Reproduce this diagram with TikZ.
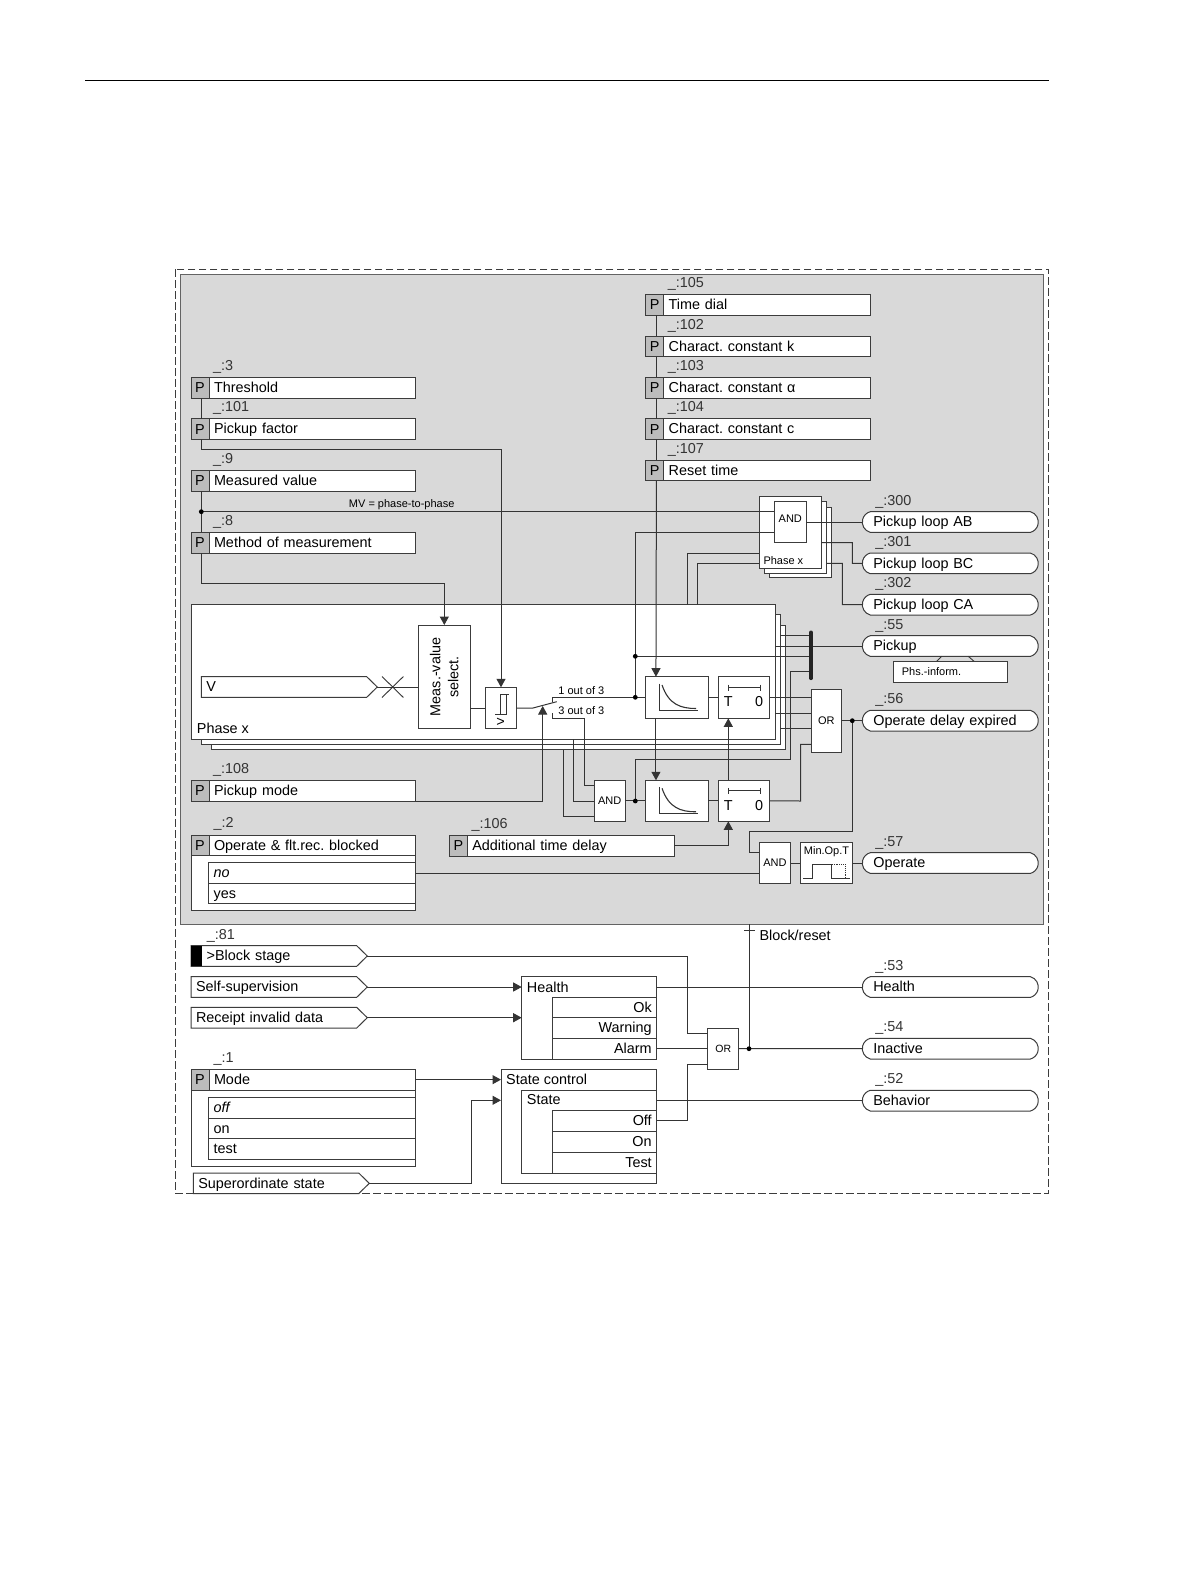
\documentclass[tikz,border=0pt]{standalone}
\usepackage{fontspec}
\setmainfont{Liberation Sans}
\usetikzlibrary{arrows.meta,calc,shapes.misc}
\definecolor{rlgrey}{RGB}{217,217,217}
\definecolor{rlpcell}{RGB}{188,188,188}
\definecolor{rlline}{RGB}{52,52,52}
\definecolor{rlbox}{RGB}{60,60,60}
\tikzset{
  textbig/.style={font=\fontsize{14.4}{17}\selectfont},
  textsmall/.style={font=\fontsize{11}{13}\selectfont},
  basebox/.style={draw=rlbox,line width=1pt,fill=white,anchor=north west,inner sep=0pt,outer sep=0pt,text=black},
  cellleft/.style={basebox,textbig,align=left,inner xsep=5pt,text height=11.5pt,text depth=2pt},
  cellright/.style={basebox,textbig,align=right,inner xsep=5pt,text height=11.5pt,text depth=2pt},
  cellmid/.style={basebox,align=center},
  pcell/.style={basebox,fill=rlpcell,textbig,minimum width=18pt,minimum height=20.7pt},
  idlabel/.style={textbig,anchor=west,inner sep=0pt,text=rlline},
  pill/.style={rounded rectangle,rounded rectangle arc length=150,draw=rlbox,line width=1pt,fill=white,textbig,align=left,
    text width=154pt,inner xsep=0pt,inner ysep=0pt,outer sep=0pt,minimum width=176pt,minimum height=20.7pt,text height=11.5pt,text depth=2pt},
  sigtext/.style={textbig,anchor=west,align=left,inner xsep=5pt,inner ysep=0pt,outer sep=0pt,minimum height=20.7pt,text height=11.5pt,text depth=2pt},
  wire/.style={draw=rlline,line width=1pt},
  wirein/.style={wire,-{Triangle[length=8.5pt,width=9pt]}},
  glyph/.style={draw=rlline,line width=.9pt},
  jdot/.style={fill=black},
}
\newcommand{\cellat}[7][cellleft]{\node[#1,minimum width={(#5-(#3))*1pt},minimum height={(#6-(#4))*1pt},text width={(#5-(#3)-10)*1pt}] (#2) at (#3,#4) {#7};}
\newcommand{\gateat}[7][textsmall]{\node[cellmid,#1,minimum width={(#5-(#3))*1pt},minimum height={(#6-(#4))*1pt}] (#2) at (#3,#4) {#7};}
\newcommand{\paramblock}[6]{\node[pcell] (#1P) at (#2,#3) {P};
  \cellat{#1}{#2+18}{#3}{#4}{#3+20.7}{#6}
  \node[idlabel] (#1id) at (#2+22,#3-10.6) {\_:#5};}
\newcommand{\pillat}[4]{\node[pill] (#1) at (950.3,#2+10.35) {#4};
  \node[idlabel] (#1id) at (875.2,#2-10) {\_:#3};}
\newcommand{\sigin}[5]{\draw[draw=rlbox,line width=1pt,fill=white] (#2,#3-10.3) -- (#2+#4-10.6,#3-10.3) -- (#2+#4,#3) -- (#2+#4-10.6,#3+10.3) -- (#2,#3+10.3) -- cycle;
  \node[sigtext,minimum width=#4pt,text width={#4pt-10pt}] (#1) at (#2,#3) {#5};}
\newcommand{\curvemark}[1]{\draw[glyph] ($(#1.center)+(-17.4,-14)$) -- ($(#1.center)+(-17.4,12.5)$) -- ($(#1.center)+(21.6,12.5)$);
  \draw[glyph,line width=1.1pt] ($(#1.center)+(-14.6,-12.5)$) .. controls ($(#1.center)+(-8,7)$) and ($(#1.center)+(4,11)$) .. ($(#1.center)+(19.4,11)$);}
\newcommand{\timermark}[1]{\draw[glyph] ($(#1.center)+(-15.5,-10)$) -- ($(#1.center)+(16.8,-10)$);
  \draw[glyph] ($(#1.center)+(-15.5,-13)$) -- ($(#1.center)+(-15.5,-7)$); \draw[glyph] ($(#1.center)+(16.8,-13)$) -- ($(#1.center)+(16.8,-7)$);
  \node[textbig,inner sep=0pt] (#1T) at ($(#1.center)+(-15.5,4.5)$) {T}; \node[textbig,inner sep=0pt] (#1zero) at ($(#1.center)+(15.2,4.5)$) {0};}
\begin{document}
\frenchspacing
\begin{tikzpicture}[x=1pt,y=-1pt]
  \useasboundingbox (0,0) rectangle (1191,1587);
  \fill[white] (0,0) rectangle (1191,1587);
  \draw[line width=.9pt,black] (85,80) -- (1049,80);
  \draw[rlbox,line width=.9pt,dash pattern=on 7.5pt off 3.5pt] (175.7,269) rectangle (1048.7,1193.3);
  \draw[draw=rlbox!80,fill=rlgrey,line width=1pt] (180.7,274) rectangle (1043.5,924);

  \paramblock{dial}{645.7}{294.5}{870.3}{105}{Time dial}
  \paramblock{constk}{645.7}{336}{870.3}{102}{Charact. constant k}
  \paramblock{consta}{645.7}{377.3}{870.3}{103}{Charact. constant α}
  \paramblock{constc}{645.7}{418.7}{870.3}{104}{Charact. constant c}
  \paramblock{reset}{645.7}{460}{870.3}{107}{Reset time}
  \paramblock{threshold}{191}{377.3}{415.7}{3}{Threshold}
  \paramblock{factor}{191}{418.7}{415.7}{101}{Pickup factor}
  \paramblock{measured}{191}{470.3}{415.7}{9}{Measured value}
  \paramblock{method}{191}{532.3}{415.7}{8}{Method of measurement}
  \paramblock{pumode}{191}{780.3}{415.7}{108}{Pickup mode}
  \paramblock{addtime}{449.3}{835.3}{674}{106}{Additional time delay}

  \gateat{andC}{769.3}{507.3}{831.7}{577.7}{}
  \gateat{andB}{764.3}{501.3}{826.7}{573.7}{}
  \gateat{andA}{759.3}{496}{821.7}{568.3}{}
  \node[textsmall,anchor=west,inner sep=0pt] (andphase) at (763.3,560.5) {Phase x};
  \gateat{phaseC}{211.5}{625}{785.5}{749.5}{}
  \gateat{phaseB}{201.3}{614.5}{780}{744.2}{}
  \gateat{phaseA}{191}{604.7}{775}{739}{}
  \node[textbig,anchor=west,inner sep=0pt] (phasename) at (196.7,728.5) {Phase x};

  \coordinate (mvjoin) at (201.3,511.7);
  \coordinate (factorbend) at (501,449.3);
  \coordinate (methodbend) at (444.3,583.3);
  \coordinate (mvrail) at (635.3,532.3);
  \coordinate (onejoin) at (635.3,697.3);
  \coordinate (pickjoin) at (635.3,656.3);
  \coordinate (andjoin) at (635.3,801);
  \coordinate (swpivot) at (533,708);
  \coordinate (swtip) at (556.7,701.7);
  \coordinate (swone) at (552.7,701.7);
  \coordinate (swoneb) at (552.7,697.3);
  \coordinate (swthree) at (552.7,713.3);
  \coordinate (swthreeb) at (552.7,718);
  \coordinate (orjoin) at (852.3,720.7);
  \coordinate (invjoin) at (749,1048.7);
  \coordinate (busA) at (811,632.3);
  \coordinate (busB) at (811,678.3);
  \coordinate (modetip) at (542.7,706);
  \coordinate (timerlink) at (728.3,750);

  \gateat[textbig]{select}{418.3}{625}{470.3}{728.7}{}
  \node[textbig,rotate=90,align=center,inner sep=0pt] (selecttext) at (444.3,676.8) {Meas.-value\\[1pt]select.};
  \gateat{hyst}{485.3}{687.3}{516.7}{728.7}{}
  \node[textbig,inner sep=0pt] (hystgt) at (500.6,722) {>};
  \draw[glyph] (495,714) -- (506,714) -- (506,694.3) (500,714) -- (500,694.3) -- (509.3,694.3);
  \sigin{volt}{201.3}{687}{176}{V}
  \coordinate (crosspt) at (392.7,687);
  \draw[glyph] (382,676.5) -- (403.4,697.5) (382,697.5) -- (403.4,676.5);
  \gateat{curveA}{645}{676.7}{708.3}{718.3}{}
  \gateat{curveB}{645}{780.3}{708.3}{821.3}{}
  \gateat{timerA}{718}{676.7}{769.7}{718.3}{}
  \gateat{timerB}{718}{780.3}{769.7}{821.3}{}
  \curvemark{curveA} \curvemark{curveB} \timermark{timerA} \timermark{timerB}
  \gateat{andBlock}{594}{780.3}{625.3}{821.3}{AND}
  \gateat{orpick}{811}{689.7}{841.7}{752}{OR}
  \gateat{andout}{759.3}{842.3}{790.7}{883.3}{AND}
  \gateat{minop}{800.3}{842.3}{852.7}{883.3}{}
  \node[textsmall,inner sep=0pt] (minoptext) at (826.5,852) {Min.Op.T};
  \draw[glyph] (803.3,878.3) -- (812.7,878.3) -- (812.7,864) -- (831.7,864) -- (831.7,878.3) -- (850,878.3);
  \draw[glyph,densely dotted] (831.7,864) -- (845,864) -- (845,878.3);
  \gateat{andgate}{774.3}{501.3}{806}{542.7}{}
  \node[textsmall,inner sep=0pt] (andgatetext) at (790.3,519) {AND};

  \pillat{loopab}{511.7}{300}{Pickup loop AB}
  \pillat{loopbc}{553}{301}{Pickup loop BC}
  \pillat{loopca}{594.3}{302}{Pickup loop CA}
  \gateat{phsinform}{893.3}{661.3}{1007.3}{682.3}{}
  \node[textsmall,anchor=west,inner sep=0pt] (phstext) at (901.7,671.3) {Phs.-inform.};
  \pillat{pickup}{635.7}{55}{Pickup}
  \pillat{opdelay}{710.3}{56}{Operate delay expired}
  \pillat{operate}{852.7}{57}{Operate}
  \draw[glyph] (936.7,661.3) -- (941.7,656.3) (968.3,656.3) -- (974,661.3);

  \gateat{blockedframe}{191}{855.7}{415.7}{910.7}{}
  \node[pcell] (blockedP) at (191,835) {P};
  \cellat{blocked}{209}{835}{415.7}{855.7}{Operate \& flt.rec. blocked}
  \node[idlabel] (blockedid) at (213.3,824) {\_:2};
  \cellat{blockno}{208.7}{862.7}{415.7}{883.3}{\textit{no}}
  \cellat{blockyes}{208.7}{883.3}{415.7}{903.7}{yes}

  \sigin{blockstage}{191}{956}{176.3}{\hspace{10.7pt}>Block stage}
  \fill[black] (191,945.7) rectangle (202.3,966.3);
  \node[idlabel] (blockstageid) at (206.7,935.5) {\_:81};
  \sigin{selfsup}{191}{987}{176.3}{Self-supervision}
  \sigin{receipt}{191}{1017.7}{176.3}{Receipt invalid data}
  \sigin{superord}{193.3}{1183.3}{176}{Superordinate state}

  \gateat{health}{521.7}{976.7}{656.7}{1059}{}
  \node[textbig,anchor=west,inner sep=0pt] (healthtext) at (526.7,987) {Health};
  \cellat[cellright]{healthok}{552.7}{997.3}{656.7}{1017.7}{Ok}
  \cellat[cellright]{healthwarn}{552.7}{1017.7}{656.7}{1038.3}{Warning}
  \cellat[cellright]{healthalarm}{552.7}{1038.3}{656.7}{1059}{Alarm}
  \gateat{modeframe}{191}{1090}{415.7}{1166.3}{}
  \node[pcell] (modeP) at (191,1069.3) {P};
  \cellat{mode}{209}{1069.3}{415.7}{1090}{Mode}
  \node[idlabel] (modeid) at (213.3,1058.8) {\_:1};
  \cellat{modeoff}{208.7}{1097.3}{415.7}{1118}{\textit{off}}
  \cellat{modeon}{208.7}{1118}{415.7}{1138.7}{on}
  \cellat{modetest}{208.7}{1138.7}{415.7}{1159.3}{test}
  \gateat{stateframe}{501}{1069.3}{656.7}{1183.3}{}
  \node[textbig,anchor=west,inner sep=0pt] (statectl) at (506,1079.5) {State control};
  \gateat{statesub}{521.7}{1090.3}{656.7}{1173}{}
  \node[textbig,anchor=west,inner sep=0pt] (statename) at (526.7,1100) {State};
  \cellat[cellright]{stateoff}{552.7}{1110}{656.7}{1131}{Off}
  \cellat[cellright]{stateon}{552.7}{1131}{656.7}{1152.3}{On}
  \cellat[cellright]{statetest}{552.7}{1152.3}{656.7}{1173}{Test}
  \gateat[font=\fontsize{10.5}{12}\selectfont]{orblock}{707.7}{1028}{738.7}{1069.3}{OR}
  \pillat{healthout}{976.7}{53}{Health}
  \pillat{inactive}{1038.3}{54}{Inactive}
  \pillat{behavior}{1090.3}{52}{Behavior}

  \draw[wire] (thresholdP.south -| mvjoin) -- (factorP.north -| mvjoin);
  \draw[wirein] (factorP.south -| mvjoin) |- (factorbend) -- (hyst.north);
  \draw[wire] (measuredP.south -| mvjoin) -- (methodP.north -| mvjoin);
  \draw[wire] (mvjoin) -- (mvjoin -| andgate.west);
  \node[textsmall,inner sep=0pt] (mvtext) at (401.7,504.3) {MV = phase-to-phase};
  \draw[wirein] (methodP.south -| mvjoin) |- (methodbend) -- (select.north);
  \draw[wire] ($(dialP.south -| reset.west)+(-7.3,0)$) -- ($(constkP.north -| reset.west)+(-7.3,0)$);
  \draw[wire] ($(constkP.south -| reset.west)+(-7.3,0)$) -- ($(constaP.north -| reset.west)+(-7.3,0)$);
  \draw[wire] ($(constaP.south -| reset.west)+(-7.3,0)$) -- ($(constcP.north -| reset.west)+(-7.3,0)$);
  \draw[wire] ($(constcP.south -| reset.west)+(-7.3,0)$) -- ($(resetP.north -| reset.west)+(-7.3,0)$);
  \draw[wirein] ($(resetP.south -| reset.west)+(-7.3,0)$) -- ($(curveA.north)+(-20.7,0)$);
  \draw[wirein] ($(curveA.south)+(-20.7,0)$) -- ($(curveB.north)+(-20.7,0)$);
  \draw[wire] (mvrail -| andgate.west) -- (mvrail) -- (onejoin);
  \draw[wire] (crosspt) -- (crosspt -| select.west);
  \draw[wire] (volt.east) -- (crosspt);
  \draw[wire] (swpivot -| select.east) -- (hyst.west |- swpivot);
  \draw[wire] (swpivot -| hyst.east) -- (swpivot) -- (swtip);
  \draw[wire] (swone) -- (swoneb) -- (onejoin) -- (curveA.west |- onejoin);
  \node[textsmall,inner sep=0pt] (oneout) at (581.3,690.3) {1 out of 3};
  \node[textsmall,inner sep=0pt] (threeout) at (581.3,711) {3 out of 3};
  \coordinate (threein) at (584,785.3);
  \coordinate (twoin) at (573.7,801);
  \coordinate (twoout) at (573.7,739);
  \coordinate (fourin) at (563.3,816.7);
  \draw[wire] (swthree) -- (swthreeb) -| (threein) -- (threein -| andBlock.west);
  \draw[wire] (twoout) -- (twoin) -- (twoin -| andBlock.west);
  \draw[wire] (fourin |- phaseC.south) -- (fourin) -- (fourin -| andBlock.west);
  \draw[wirein] (pumode.south east) -| (modetip);
  \draw[wire] (andBlock.east) -- (curveB.west);
  \draw[wire] (curveB.east) -- (timerB.west);
  \draw[wire] (curveA.east |- onejoin) -- (timerA.west |- onejoin);
  \draw[wire] (andjoin) -- (635.3,759.3) -- (790.7,759.3) -- (790.7,671.7) -- (busB |- 0,671.7);
  \draw[wire] (pickjoin) -- (pickjoin -| busA);
  \draw[wire] (phaseB.north east |- 0,635) -- (busA |- 0,635);
  \draw[wire] (phaseA.east |- pickup.west) -- (pickup.west);
  \draw[line width=3.6pt,line cap=round,rlline!70!black] (busA) -- (busB);
  \draw[wirein] (timerB.north -| timerlink) -- (timerA.south -| timerlink);
  \draw[wirein] (addtime.east) -| (timerB.south -| timerlink);
  \draw[wire] (timerA.east |- onejoin) -- (orpick.west |- onejoin);
  \draw[wire] (phaseA.east |- 0,713) -- (orpick.west |- 0,713);
  \draw[wire] (phaseB.east |- 0,728.7) -- (orpick.west |- 0,728.7);
  \draw[wire] (timerB.east) -- (800.7,801) -- (800.7,744.3) -- (orpick.west |- 0,744.3);
  \draw[wire] (orpick.east |- orjoin) -- (opdelay.west |- orjoin);
  \draw[wire] (orjoin) -- (852.3,831.7) -- (749,831.7) -- (749,852.3) -- (andout.west |- 0,852.3);
  \draw[wire] (andout.east |- operate.west) -- (minop.west |- operate.west);
  \draw[wire] (minop.east |- operate.west) -- (operate.west);
  \draw[wire] (blockno.east) -- (andout.west |- blockno.east);

  \draw[wire] (687.3,604.7) -- (687.3,553) -- (andA.west |- 0,553);
  \draw[wire] (697.3,604.7) -- (697.3,563.3) -- (andA.west |- 0,563.3);
  \draw[wire] (andgate.east |- loopab.west) -- (loopab.west);
  \draw[wire] (andA.east |- 0,542.7) -- (852.3,542.7) -- (852.3,563.3) -- (loopbc.west);
  \draw[wire] (andB.east |- 0,563.3) -- (842.3,563.3) -- (842.3,604.7) -- (loopca.west);

  \draw[wire] (blockstage.east) -- (687.3,956) -- (687.3,1033.3) -- (orblock.west |- 0,1033.3);
  \draw[wirein] (selfsup.east) -- (health.west |- selfsup.east);
  \draw[wirein] (receipt.east) -- (health.west |- receipt.east);
  \draw[wire] (health.east |- healthout.west) -- (healthout.west);
  \draw[wire] (healthalarm.east) -- (orblock.west |- healthalarm.east);
  \draw[wire] (orblock.east |- invjoin) -- (inactive.west);
  \draw[wire] (invjoin) -- (749,924);
  \draw[wire] (744,930.7) -- (755,930.7);
  \node[textbig,anchor=west,inner sep=0pt] (blockreset) at (759.3,935) {Block/reset};
  \draw[wire] (stateoff.east) -- (687.3,1120.5) -- (687.3,1064.3) -- (orblock.west |- 0,1064.3);
  \draw[wire] (statesub.east |- behavior.west) -- (behavior.west);
  \draw[wirein] (mode.east) -- (stateframe.west |- mode.east);
  \draw[wirein] (superord.east) -- (471,1183.3) -- (471,1100.3) -- (stateframe.west |- 0,1100.3);

  \fill[jdot] (mvjoin) circle[radius=2.4pt] (onejoin) circle[radius=2.4pt] (pickjoin) circle[radius=2.4pt]
    (andjoin) circle[radius=2.4pt] (orjoin) circle[radius=2.4pt] (invjoin) circle[radius=2.4pt];
\end{tikzpicture}
\end{document}
